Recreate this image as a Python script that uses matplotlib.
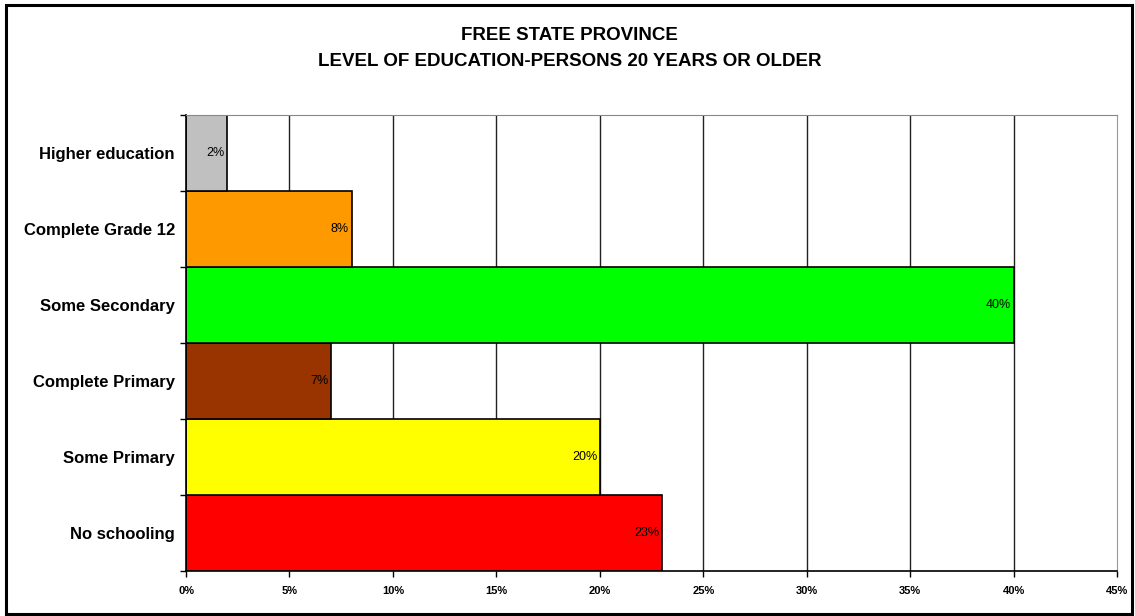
import matplotlib.pyplot as plt
import matplotlib.patches as mpatches
from matplotlib.ticker import FuncFormatter

# Education level, Free State province, persons aged 20+
categories = ['No schooling', 'Some Primary', 'Complete Primary',
              'Some Secondary', 'Complete Grade 12', 'Higher education']
shares = [23, 20, 7, 40, 8, 2]
bar_colors = ['#FF0000', '#FFFF00', '#993300', '#00FF00', '#FF9900', '#C0C0C0']
x_ticks = [0, 5, 10, 15, 20, 25, 30, 35, 40, 45]

plt.rcParams['font.family'] = ['Liberation Sans', 'DejaVu Sans']

fig = plt.figure(figsize=(11.35, 6.16), dpi=100)
ax = fig.add_axes([0.1639, 0.0731, 0.8203, 0.7403])

# vertical grid behind the bars
for x in x_ticks[1:-1]:
    ax.axvline(x, color='#222222', linewidth=1.0, zorder=0)

ypos = range(len(categories))
ax.barh(ypos, shares, height=1.0, color=bar_colors, edgecolor='black',
        linewidth=1.2, zorder=2)

for y, v in zip(ypos, shares):
    ax.text(v - 0.12, y, f'{v}%', ha='right', va='center', fontsize=9,
            color='black', zorder=3)

ax.set_xlim(0, 45)
ax.set_ylim(-0.5, len(categories) - 0.5)
ax.set_xticks(x_ticks)
ax.xaxis.set_major_formatter(FuncFormatter(lambda v, p: f'{v:.0f}%'))
for lab in ax.get_xticklabels():
    lab.set_fontweight('bold')
ax.tick_params(axis='x', labelsize=8, length=4, width=1, pad=7)

ax.set_yticks(list(ypos))
ax.set_yticklabels(categories, fontsize=12, fontweight='bold')
ax.tick_params(axis='y', length=0, pad=8)
# small ticks at band boundaries on the category axis
ax.set_yticks([i - 0.5 for i in range(len(categories) + 1)], minor=True)
ax.tick_params(axis='y', which='minor', length=4, width=1)

ax.spines['left'].set_color('black')
ax.spines['bottom'].set_color('black')
ax.spines['left'].set_linewidth(1.2)
ax.spines['bottom'].set_linewidth(1.2)
ax.spines['top'].set_color('#888888')
ax.spines['right'].set_color('#999999')

fig.text(0.502, 0.942, 'FREE STATE PROVINCE', ha='center', va='center',
         fontsize=13.5, fontweight='bold')
fig.text(0.502, 0.900, 'LEVEL OF EDUCATION-PERSONS 20 YEARS OR OLDER',
         ha='center', va='center', fontsize=13.5, fontweight='bold')

# chart frame
fig.add_artist(mpatches.Rectangle((6 / 1135, 2 / 616), 1126 / 1135, 609 / 616,
                                  transform=fig.transFigure, fill=False,
                                  edgecolor='black', linewidth=2.2))

fig.savefig('out.png', dpi=100)
